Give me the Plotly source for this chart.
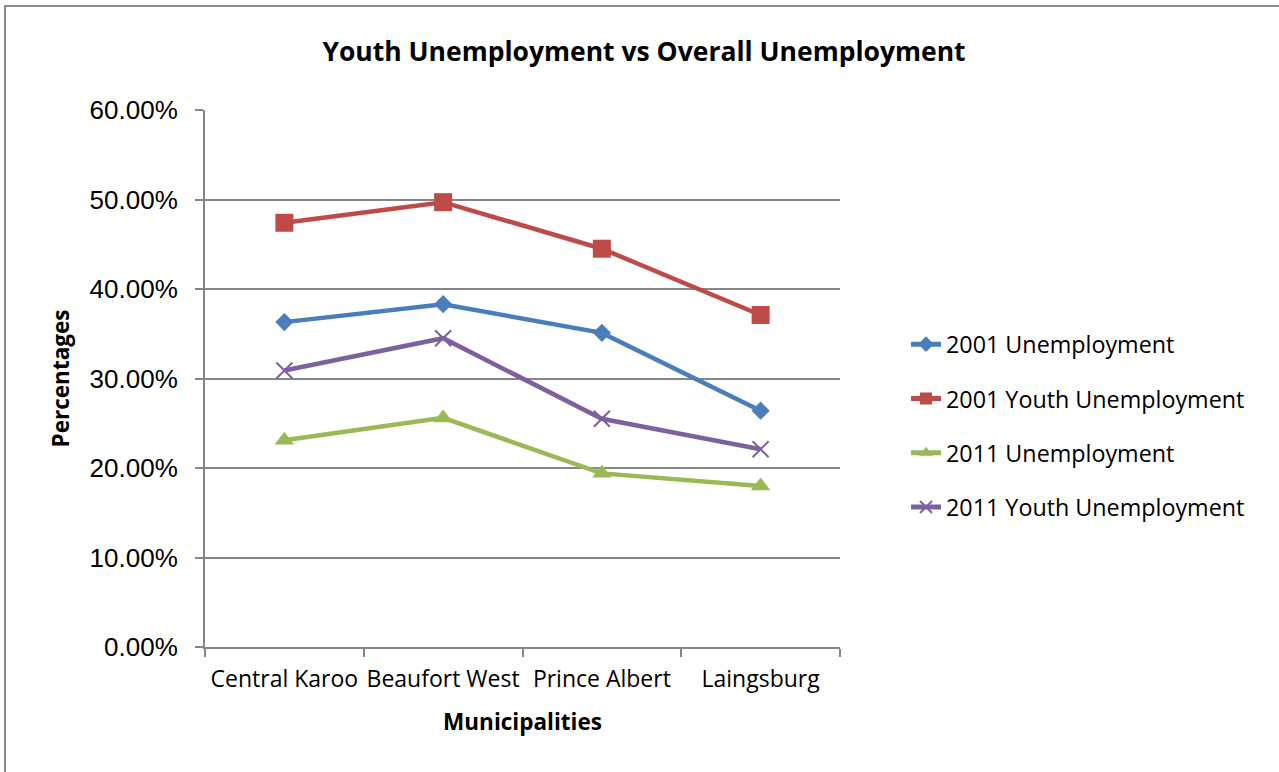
import plotly.graph_objects as go

# Municipalities on the category axis
municipalities = ["Central Karoo", "Beaufort West", "Prince Albert", "Laingsburg"]

# Unemployment rates (fractions)
unemp_2001 = [0.363, 0.383, 0.351, 0.264]
youth_unemp_2001 = [0.474, 0.497, 0.445, 0.371]
unemp_2011 = [0.231, 0.256, 0.194, 0.180]
youth_unemp_2011 = [0.309, 0.345, 0.255, 0.221]

series_names = ["2001 Unemployment", "2001 Youth Unemployment",
                "2011 Unemployment", "2011 Youth Unemployment"]

fig = go.Figure()

fig.add_trace(go.Scatter(
    x=municipalities, y=unemp_2001, name=series_names[0], mode="lines+markers",
    legendgroup="g1",
    line=dict(color="#4A7EBB", width=4.5),
    marker=dict(symbol="diamond", size=14, color="#4A7EBB"),
))
fig.add_trace(go.Scatter(
    x=municipalities, y=youth_unemp_2001, name=series_names[1], mode="lines+markers",
    legendgroup="g2",
    line=dict(color="#BE4B48", width=4.5),
    marker=dict(symbol="square", size=18, color="#BE4B48"),
))
fig.add_trace(go.Scatter(
    x=municipalities, y=unemp_2011, name=series_names[2], mode="lines+markers",
    legendgroup="g3",
    line=dict(color="#98B954", width=4.5),
    marker=dict(symbol="triangle-up", size=17, color="#98B954"),
))
fig.add_trace(go.Scatter(
    x=municipalities, y=youth_unemp_2011, name=series_names[3], mode="lines+markers",
    legendgroup="g4",
    line=dict(color="#7D60A0", width=4.5),
    marker=dict(symbol="x-thin", size=16, color="#7D60A0",
                line=dict(color="#7D60A0", width=2)),
))

fig.update_layout(
    width=1279, height=772,
    paper_bgcolor="white", plot_bgcolor="white",
    margin=dict(l=205, r=439, t=110, b=125),
    title=dict(
        text="<b>Youth Unemployment vs Overall Unemployment</b>",
        x=644 / 1279, xanchor="center", y=1 - 52 / 772, yanchor="middle",
        font=dict(family="Open Sans", size=26.5, color="black"),
    ),
    xaxis=dict(
        type="category", range=[-0.5, 3.5], automargin=False, tickangle=0,
        showline=True, linecolor="#868686", linewidth=2,
        ticks="outside", tickson="boundaries", ticklen=8, tickcolor="#868686", tickwidth=2,
        showgrid=False, zeroline=False, ticklabelstandoff=10,
        tickfont=dict(family="Open Sans", size=23, color="black"),
        title=dict(text="<b>Municipalities</b>", standoff=22,
                   font=dict(family="Open Sans", size=22.5, color="black")),
    ),
    yaxis=dict(
        range=[0, 0.6], dtick=0.1, tickformat=".2%", automargin=False,
        showline=True, linecolor="#868686", linewidth=2,
        ticks="outside", ticklen=8, tickcolor="#868686", tickwidth=2,
        showgrid=True, gridcolor="#868686", gridwidth=1.5, zeroline=False,
        ticklabelstandoff=12,
        tickfont=dict(family="Liberation Sans", size=26, color="black"),
        title=dict(text="<b>Percentages</b>", standoff=14,
                   font=dict(family="Open Sans", size=22.5, color="black")),
    ),
    legend=dict(
        x=1.104, xanchor="left", y=(647 - 426) / 537, yanchor="middle",
        font=dict(family="Open Sans", size=23.3, color="black"),
        tracegroupgap=21, itemsizing="constant",
        bgcolor="rgba(0,0,0,0)",
    ),
    showlegend=True,
    shapes=[dict(
        type="rect", xref="paper", yref="paper",
        x0=(5 - 205) / 635, x1=(1300 - 205) / 635,
        y0=(647 - 800) / 537, y1=(647 - 6) / 537,
        line=dict(color="#8C8C8C", width=2), fillcolor="rgba(0,0,0,0)", layer="below",
    )],
)

fig.write_html("out.html")
